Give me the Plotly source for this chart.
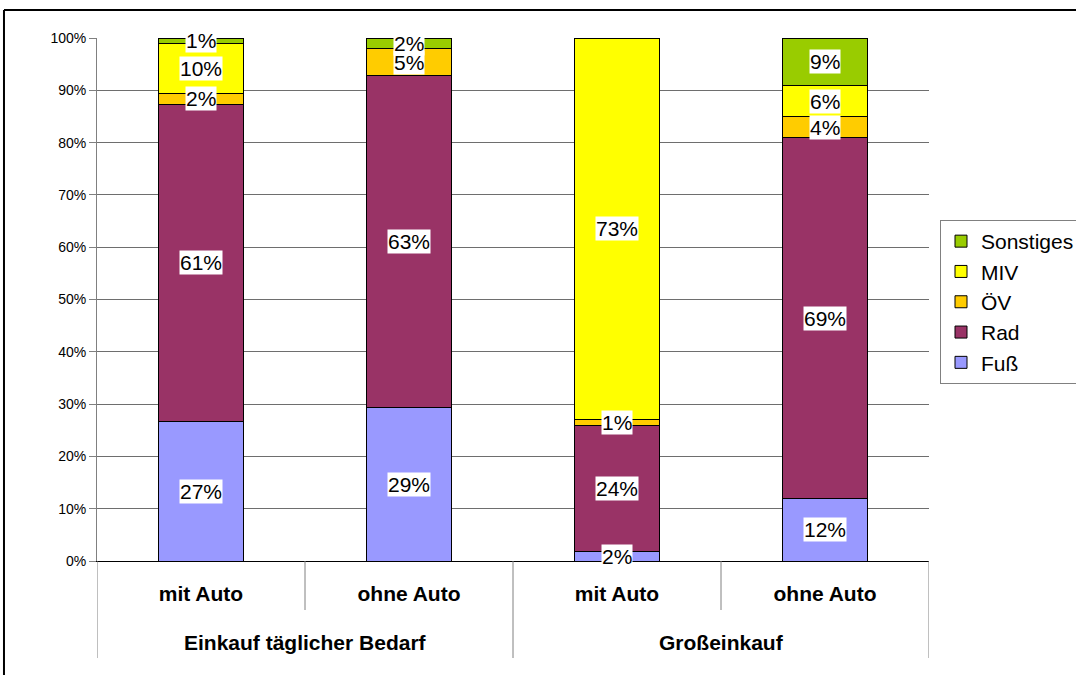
import plotly.graph_objects as go

# Kategorien (innere Ebene) und Gruppen (äußere Ebene)
categories = ["mit Auto", "ohne Auto", "mit Auto", "ohne Auto"]
groups = ["Einkauf täglicher Bedarf", "Großeinkauf"]
group_members = [[0, 1], [2, 3]]

# Anteile der Verkehrsmittel in Prozent
fuss = [26.7, 29.4, 1.9, 11.9]
rad = [60.6, 63.4, 24.1, 69.0]
oev = [2.1, 5.2, 1.0, 4.1]
miv = [9.6, 0.0, 73.0, 5.9]
sonstiges = [1.0, 2.0, 0.0, 9.1]

series = [
    ("Fuß", fuss, "#9999FF"),
    ("Rad", rad, "#993366"),
    ("ÖV", oev, "#FFCC00"),
    ("MIV", miv, "#FFFF00"),
    ("Sonstiges", sonstiges, "#99CC00"),
]

y_ticks = list(range(0, 101, 10))
y_ticktext = [f"{v}%" for v in y_ticks]

FONT = "Liberation Sans, Arial, sans-serif"
xpos = list(range(len(categories)))

fig = go.Figure()
for name, vals, color in series:
    fig.add_trace(go.Bar(
        x=xpos, y=vals, name=name, width=0.404,
        marker=dict(color=color, line=dict(color="#000000", width=1)),
        hoverinfo="skip",
    ))

# Wertebeschriftungen mit weißem Hintergrund in der Mitte jedes Segments
annotations = []
base = [0.0] * len(categories)
for name, vals, color in series:
    for i, v in enumerate(vals):
        if v > 0:
            annotations.append(dict(
                x=xpos[i], y=base[i] + v / 2, xref="x", yref="y",
                text=f"{round(v)}%", showarrow=False,
                font=dict(family=FONT, size=21, color="#000000"),
                bgcolor="#FFFFFF", borderpad=0,
            ))
        base[i] += v

# Gruppenbeschriftungen unter der Achse
for g, members in zip(groups, group_members):
    annotations.append(dict(
        x=sum(members) / len(members), y=-0.155, xref="x", yref="paper",
        text=f"<b>{g}</b>", showarrow=False, yanchor="middle",
        font=dict(family=FONT, size=21, color="#000000"),
    ))

# Trennlinien der Achsenbeschriftung
shapes = []
n = len(categories)
for k in range(n + 1):
    xb = k - 0.5
    outer = k in (0, n) or any(k == m[0] for m in group_members)
    shapes.append(dict(
        type="line", xref="x", yref="paper",
        x0=xb, x1=xb, y0=0, y1=-0.1855 if outer else -0.0937,
        line=dict(color="#808080", width=1),
    ))

# Rahmen des Diagrammbereichs (oben und links)
shapes.append(dict(type="line", xref="paper", yref="paper",
                   x0=-0.1118, x1=1.25, y0=1.0535, y1=1.0535,
                   line=dict(color="#000000", width=2)))
shapes.append(dict(type="line", xref="paper", yref="paper",
                   x0=-0.1118, x1=-0.1118, y0=1.0535, y1=-0.25,
                   line=dict(color="#000000", width=2)))

fig.update_layout(
    width=1076, height=675,
    margin=dict(l=97, r=147, t=38, b=114),
    barmode="stack",
    paper_bgcolor="#FFFFFF", plot_bgcolor="#FFFFFF",
    font=dict(family=FONT, color="#000000"),
    showlegend=True,
    legend=dict(
        traceorder="reversed",
        xref="container", yref="container",
        x=940 / 1076, y=1 - 220 / 675, xanchor="left", yanchor="top",
        font=dict(family=FONT, size=21, color="#000000"),
        bordercolor="#808080", borderwidth=1, bgcolor="#FFFFFF",
        itemwidth=30,
    ),
    xaxis=dict(
        range=[-0.5, n - 0.5],
        tickvals=xpos, ticktext=[f"<b>{c}</b>" for c in categories],
        tickfont=dict(family=FONT, size=21, color="#000000"),
        showline=True, linecolor="#000000", linewidth=1,
        showgrid=False, zeroline=False, ticks="",
        ticklabelstandoff=14,
    ),
    yaxis=dict(
        range=[0, 100],
        tickvals=y_ticks, ticktext=y_ticktext,
        tickfont=dict(family=FONT, size=14, color="#000000"),
        showline=True, linecolor="#808080", linewidth=1,
        ticks="outside", ticklen=7, tickcolor="#808080",
        showgrid=True, gridcolor="#6e6e6e", gridwidth=1,
        zeroline=False,
    ),
    annotations=annotations,
    shapes=shapes,
)

fig.write_html("out.html")
